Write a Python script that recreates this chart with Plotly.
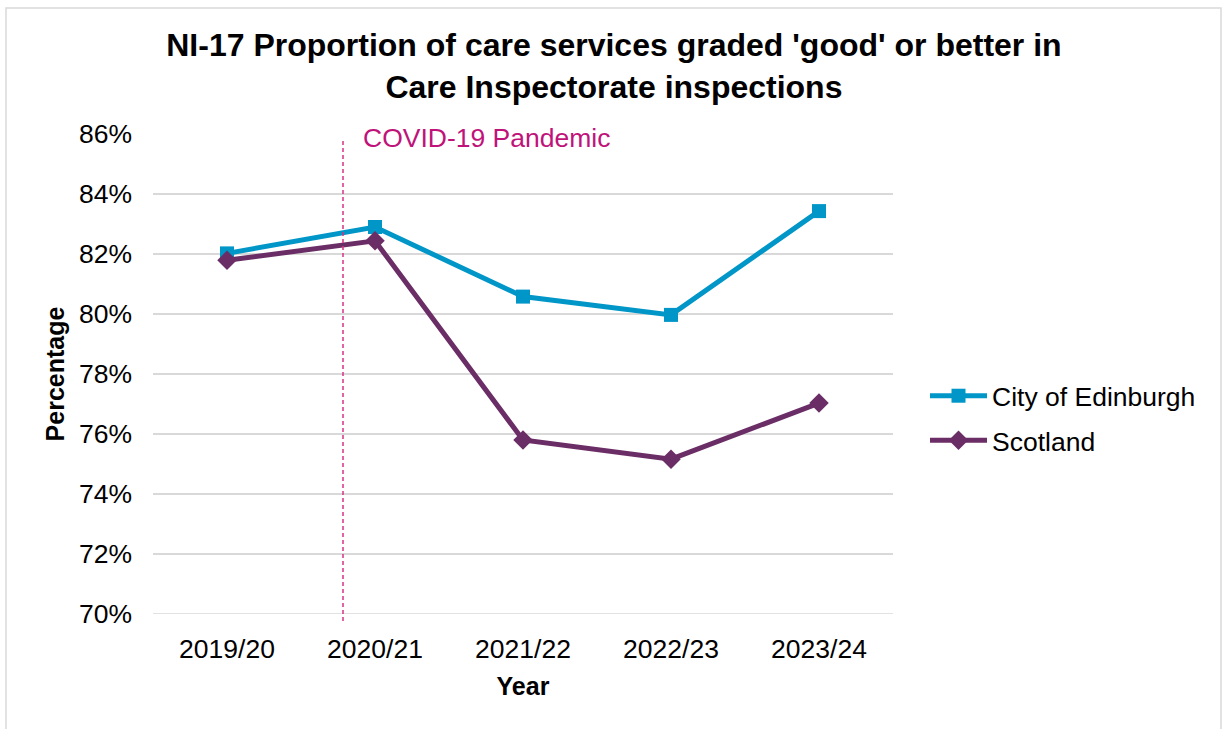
import plotly.graph_objects as go

years = ["2019/20", "2020/21", "2021/22", "2022/23", "2023/24"]
edinburgh = [82.02, 82.9, 80.58, 79.97, 83.43]
scotland = [81.79, 82.44, 75.8, 75.16, 77.03]
y_ticks = [70, 72, 74, 76, 78, 80, 82, 84, 86]
y_tick_labels = [f"{v}%" for v in y_ticks]

FONT = "Liberation Sans, Arial, sans-serif"
EDI_COLOR = "#0096C7"
SCO_COLOR = "#6B2D66"
GRID = "#D9D9D9"

fig = go.Figure()
fig.add_trace(go.Scatter(
    x=years, y=edinburgh, name="City of Edinburgh", mode="lines+markers",
    line=dict(color=EDI_COLOR, width=5),
    marker=dict(symbol="square", size=14, color=EDI_COLOR),
    legendgroup="a",
))
fig.add_trace(go.Scatter(
    x=years, y=scotland, name="Scotland", mode="lines+markers",
    line=dict(color=SCO_COLOR, width=5),
    marker=dict(symbol="diamond", size=15, color=SCO_COLOR),
    legendgroup="b",
))

L, R, T, B = 153, 330, 134, 115
W, H = 1223, 729
pw, ph = W - L - R, H - T - B

def px_x(p):
    return (p - L) / pw

def px_y(p):
    return (H - B - p) / ph

# border around the chart
fig.add_shape(type="rect", xref="paper", yref="paper",
              x0=px_x(6), x1=px_x(1221), y0=px_y(740), y1=px_y(8),
              line=dict(color=GRID, width=1.5), fillcolor="rgba(0,0,0,0)", layer="below")

# bottom gridline (70%)
fig.add_shape(type="line", xref="paper", yref="y", x0=0, x1=1, y0=70, y1=70,
              line=dict(color=GRID, width=1.5), layer="below")

# white box behind the COVID label, interrupting the top gridline
fig.add_shape(type="rect", xref="paper", yref="paper",
              x0=px_x(343), x1=px_x(645), y0=px_y(138), y1=px_y(130),
              line=dict(width=0), fillcolor="white", layer="above")

# COVID dashed line
fig.add_shape(type="line", xref="paper", yref="paper",
              x0=px_x(343), x1=px_x(343), y0=px_y(621), y1=px_y(139),
              line=dict(color="#D63384", width=1.5, dash="4px,3px"), layer="above")

fig.add_annotation(
    text="COVID-19 Pandemic", xref="paper", yref="paper",
    x=px_x(362), y=px_y(138), xanchor="left", yanchor="middle",
    showarrow=False, align="left", borderpad=0,
    font=dict(family=FONT, size=26.5, color="#C0137A"),
)

fig.update_layout(
    width=W, height=H,
    margin=dict(l=L, r=R, t=T, b=B),
    paper_bgcolor="white", plot_bgcolor="white",
    font=dict(family=FONT, color="#000000"),
    title=dict(
        text="<b>NI-17 Proportion of care services graded 'good' or better in<br>Care Inspectorate inspections</b>",
        x=0.502, xanchor="center", xref="container",
        y=(H - 56) / H, yanchor="top", yref="container",
        font=dict(family=FONT, size=32, color="#000000"),
    ),
    xaxis=dict(
        type="category", range=[-0.5, 4.5],
        showgrid=False, showline=False, zeroline=False,
        ticks="", tickfont=dict(family=FONT, size=26.5, color="#000000"),
        ticklabelstandoff=16,
        title=dict(text="<b>Year</b>", font=dict(family=FONT, size=25, color="#000000"), standoff=14),
    ),
    yaxis=dict(
        range=[70, 86], tickvals=y_ticks, ticktext=y_tick_labels,
        showgrid=True, gridcolor=GRID, gridwidth=1.5,
        showline=False, zeroline=False, ticks="",
        tickfont=dict(family=FONT, size=26.5, color="#000000"),
        ticklabelstandoff=20,
        title=dict(text="<b>Percentage</b>", font=dict(family=FONT, size=25, color="#000000"), standoff=7),
    ),
    legend=dict(
        x=px_x(925), xanchor="left", y=px_y(418), yanchor="middle",
        font=dict(family=FONT, size=26.5, color="#000000"),
        itemwidth=57, traceorder="grouped", tracegroupgap=7,
        bgcolor="rgba(0,0,0,0)",
    ),
    showlegend=True,
)

fig.write_html("out.html")
